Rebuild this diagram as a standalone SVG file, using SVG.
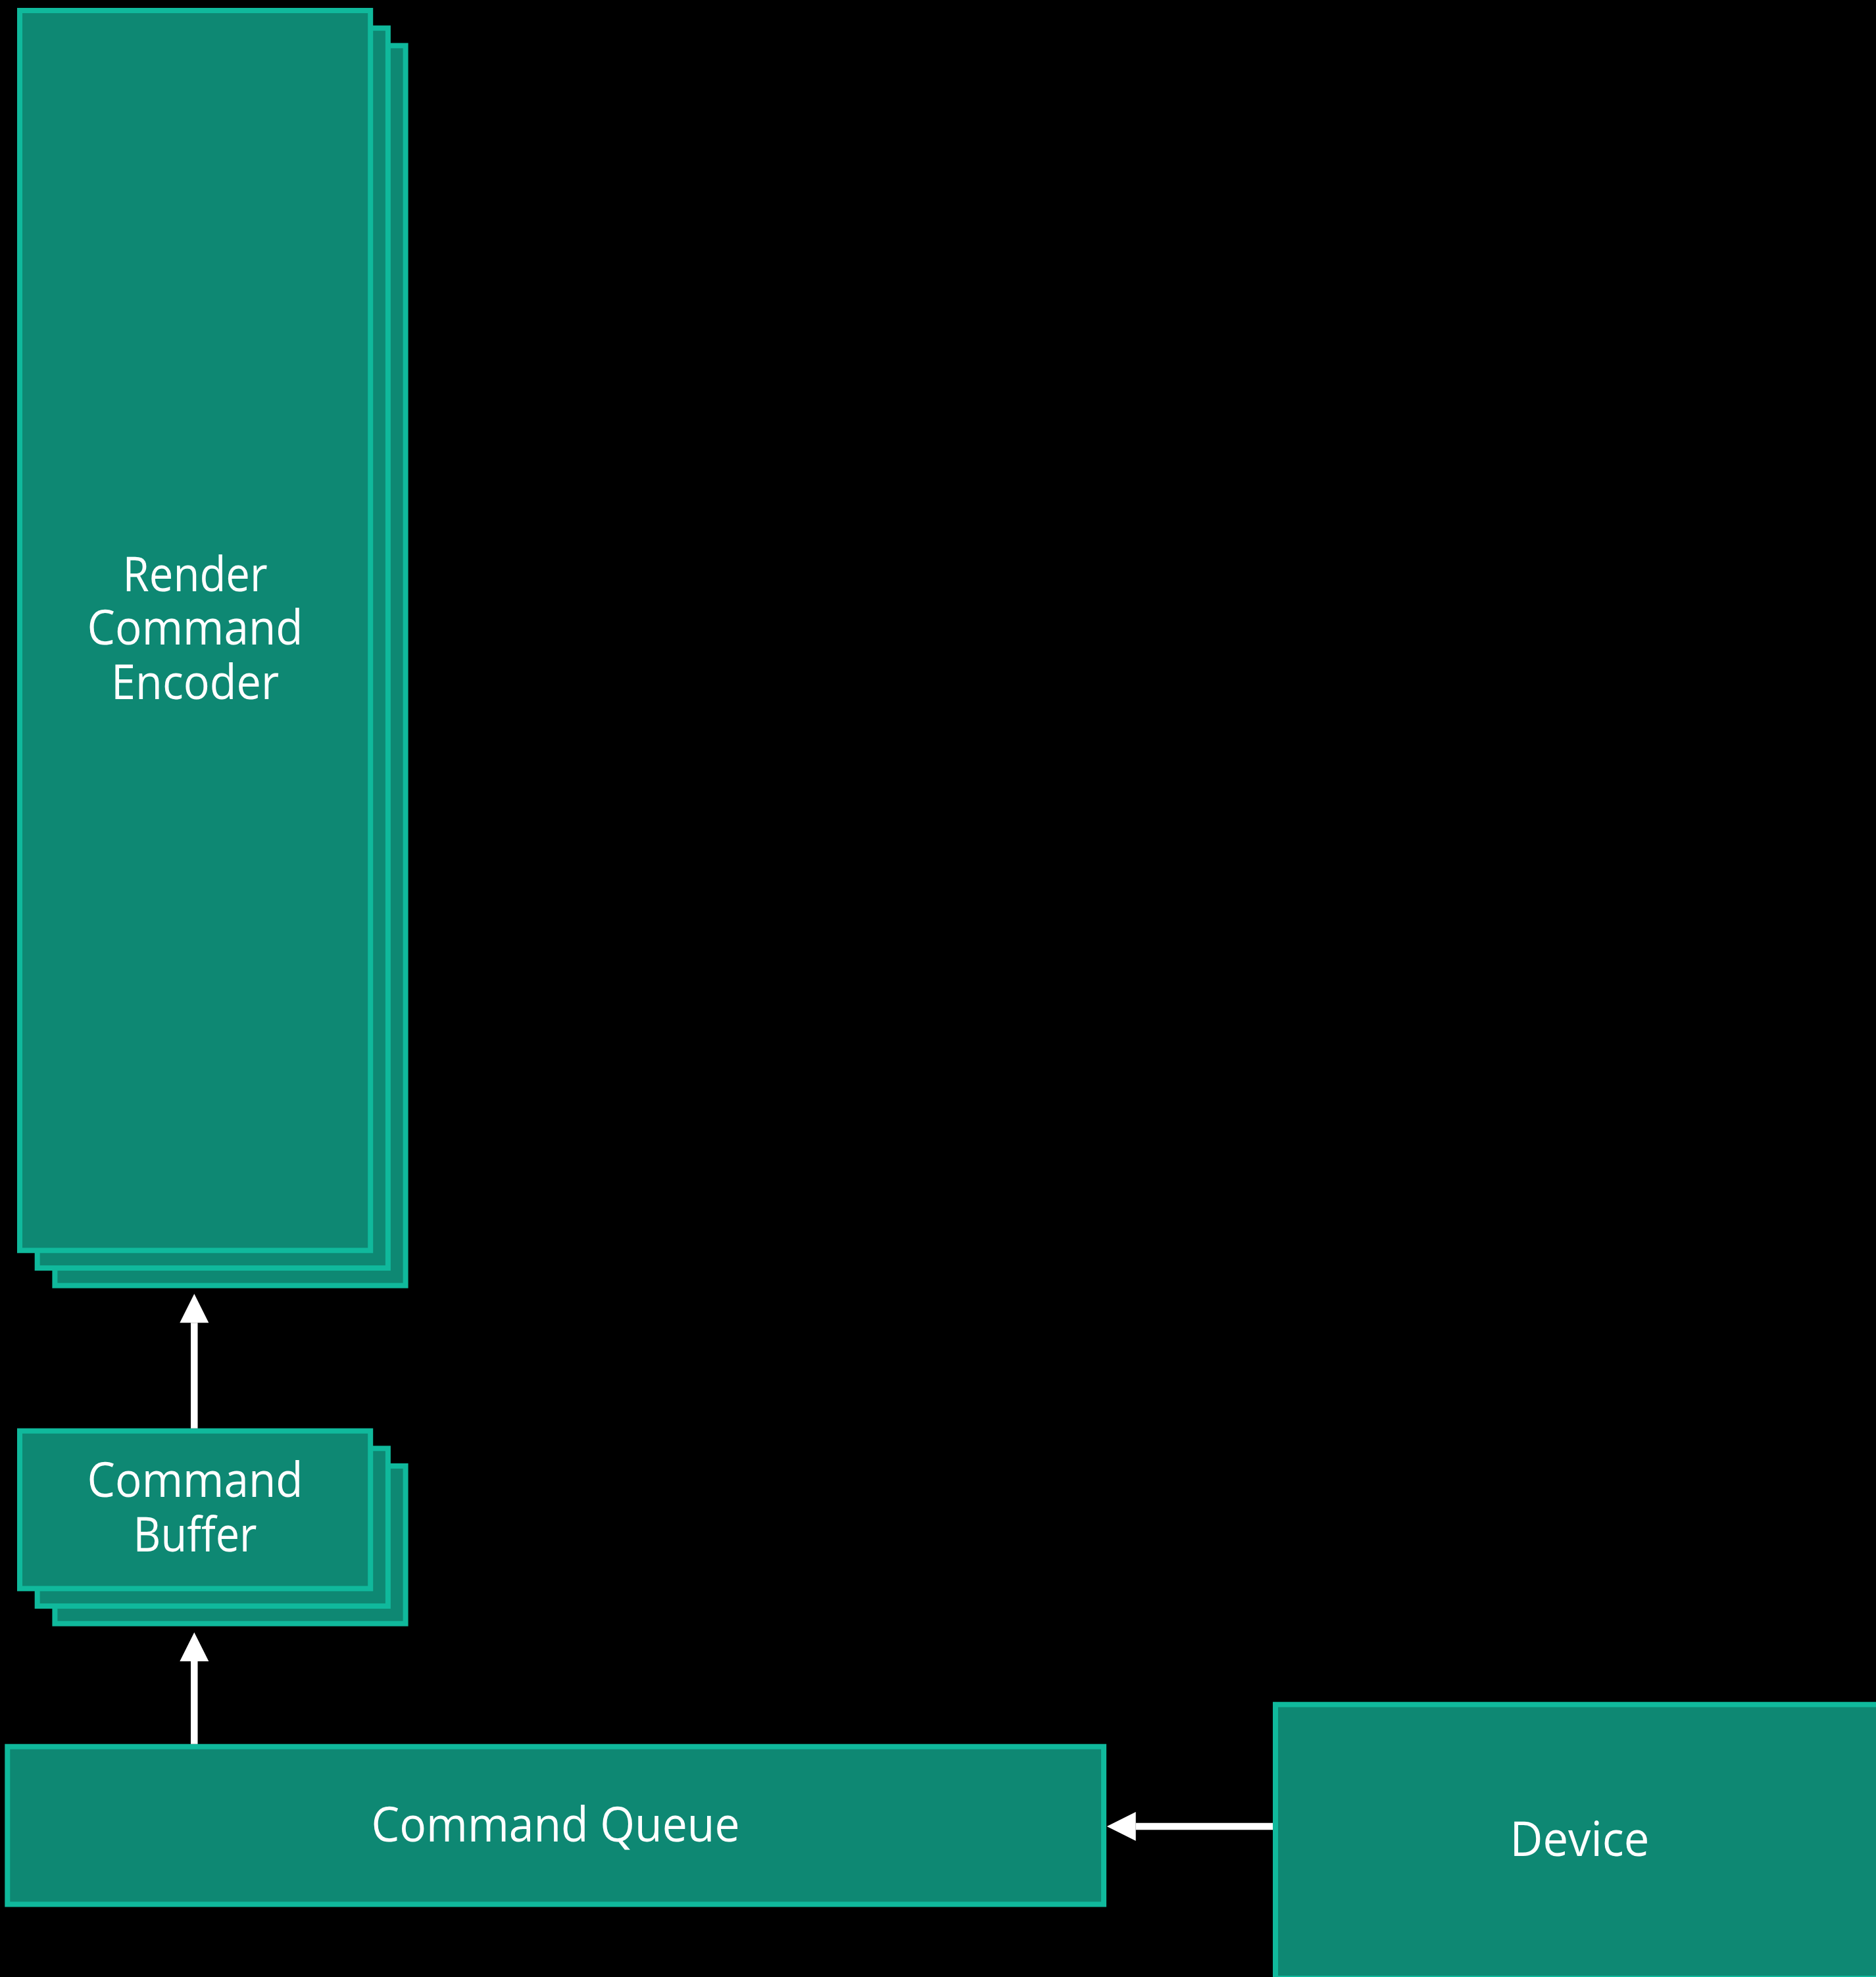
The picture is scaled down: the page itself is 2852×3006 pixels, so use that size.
<svg xmlns="http://www.w3.org/2000/svg" width="2852" height="3006" viewBox="0 0 2852 3006">
  <style>
    .box { fill: #0e8873; stroke: #10b99c; stroke-width: 8; }
    .label { font-family: "Open Sans", "Noto Sans", sans-serif; font-size: 73px; fill: #ffffff; text-anchor: middle; }
    .link { stroke: #ffffff; stroke-width: 10.5; fill: none; marker-end: url(#head); }
  </style>
  <defs>
    <marker id="head" markerUnits="userSpaceOnUse" markerWidth="44" markerHeight="44" viewBox="0 -22 44 44" refX="0" refY="0" orient="auto" overflow="visible">
      <path d="M0,-22 L44,0 L0,22 Z" fill="#ffffff"/>
    </marker>
  </defs>

  <rect width="2852" height="3006" fill="#000000"/>

  <!-- stacked render command encoders -->
  <g id="render-command-encoder">
    <rect class="box" x="83.4" y="69.4" width="533.2" height="1885.3"/>
    <rect class="box" x="56.7" y="42.7" width="533.2" height="1885.3"/>
    <rect class="box" x="30" y="16" width="533.2" height="1885.3"/>
    <text class="label" x="296.6" y="899" textLength="220" lengthAdjust="spacingAndGlyphs">Render</text>
    <text class="label" x="296.6" y="980" textLength="328" lengthAdjust="spacingAndGlyphs">Command</text>
    <text class="label" x="296.6" y="1062.7" textLength="255" lengthAdjust="spacingAndGlyphs">Encoder</text>
  </g>

  <!-- stacked command buffers -->
  <g id="command-buffer">
    <rect class="box" x="83.4" y="2229" width="533.2" height="239.7"/>
    <rect class="box" x="56.7" y="2202.3" width="533.2" height="239.7"/>
    <rect class="box" x="30" y="2175.7" width="533.2" height="239.7"/>
    <text class="label" x="296.6" y="2276" textLength="328" lengthAdjust="spacingAndGlyphs">Command</text>
    <text class="label" x="296.6" y="2359" textLength="188" lengthAdjust="spacingAndGlyphs">Buffer</text>
  </g>

  <!-- command queue -->
  <g id="command-queue">
    <rect class="box" x="11.3" y="2655.7" width="1666.7" height="239.8"/>
    <text class="label" x="844.5" y="2800" textLength="560" lengthAdjust="spacingAndGlyphs">Command Queue</text>
  </g>

  <!-- device (runs past the right and bottom edges) -->
  <g id="device">
    <rect class="box" x="1939" y="2591.7" width="1000" height="416.3"/>
    <text class="label" x="2401.5" y="2821.7" textLength="212" lengthAdjust="spacingAndGlyphs">Device</text>
  </g>

  <!-- connectors -->
  <g id="connectors">
    <line class="link" x1="295.3" y1="2171.7" x2="295.3" y2="2011.3"/>
    <line class="link" x1="295.3" y1="2651.7" x2="295.3" y2="2525.9"/>
    <line class="link" x1="1935" y1="2777" x2="1726.7" y2="2777"/>
  </g>
</svg>
